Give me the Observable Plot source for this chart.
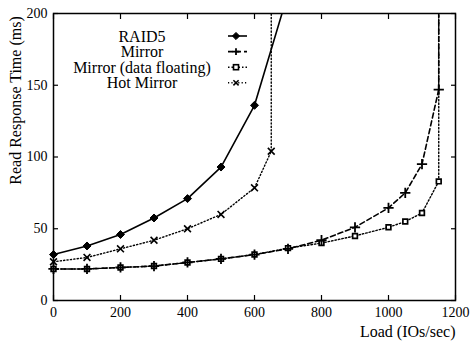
<!DOCTYPE html>
<html>
<head>
<meta charset="utf-8">
<script src="https://cdn.jsdelivr.net/npm/d3@7"></script>
<script src="https://cdn.jsdelivr.net/npm/@observablehq/plot@0.6"></script>
<style>
  html, body { margin: 0; padding: 0; background: #fff; }
  #wrap { position: relative; width: 475px; height: 346px; }
  #legend { position: absolute; left: 0; top: 0; }
</style>
</head>
<body>
<div id="wrap"></div>
<script>
// ---- data ----
const seriesNames = ["RAID5", "Mirror", "Mirror (data floating)", "Hot Mirror"];

const raidLoad = [0, 100, 200, 300, 400, 500, 600];
const raidTime = [32, 38, 46, 57.5, 71, 93, 136];
const raidTail = [[600, 136], [700, 214]];

const mirrorLoad = [0, 100, 200, 300, 400, 500, 600, 700, 800, 900, 1000, 1050, 1100, 1150];
const mirrorTime = [22, 22, 23, 24, 26.5, 29, 32, 36, 42, 51, 64.5, 75, 95, 147];
const mirrorTail = [[1150, 147], [1150, 210]];

const floatLoad = [0, 100, 200, 300, 400, 500, 600, 700, 800, 900, 1000, 1050, 1100, 1150];
const floatTime = [22, 22, 23, 24, 26.5, 29, 32, 36.5, 40, 45, 51, 55, 61, 83];
const floatTail = [[1150, 83], [1150, 210]];

const hotLoad = [0, 100, 200, 300, 400, 500, 600, 650];
const hotTime = [27, 30, 36, 42, 50, 60, 78.5, 104];
const hotTail = [[650, 104], [650, 210]];

const xTicks = [0, 200, 400, 600, 800, 1000, 1200];
const yTicks = [0, 50, 100, 150, 200];

const xLabel = "Load (IOs/sec)";
const yLabel = "Read Response Time (ms)";

// ---- build tables ----
const toRows = (xs, ys) => xs.map((x, i) => ({x, y: ys[i]}));
const raid = toRows(raidLoad, raidTime);
const mirror = toRows(mirrorLoad, mirrorTime);
const floating = toRows(floatLoad, floatTime);
const hot = toRows(hotLoad, hotTime);
const tail = t => t.map(([x, y]) => ({x, y}));

const styles = {
  raid: {stroke: "#000", strokeWidth: 1.6},
  mirror: {stroke: "#000", strokeWidth: 1.6, strokeDasharray: "5,3"},
  floating: {stroke: "#000", strokeWidth: 1.4, strokeDasharray: "1.5,2"},
  hot: {stroke: "#000", strokeWidth: 1.4, strokeDasharray: "1.2,2.2"}
};

const font = "'Liberation Serif', 'DejaVu Serif', serif";

const chart = Plot.plot({
  width: 475,
  height: 346,
  marginTop: 13,
  marginRight: 20,
  marginBottom: 46,
  marginLeft: 53,
  style: {fontFamily: font, fontSize: "14px", color: "#000", background: "#fff"},
  x: {domain: [0, 1200], axis: null},
  y: {domain: [0, 200], axis: null},
  marks: [
    // axes with inward ticks
    Plot.axisX({anchor: "bottom", label: null, ticks: xTicks, tickSize: 5, dy: -5, tickPadding: 7, fontSize: 14, tickFormat: d => String(d), strokeWidth: 1.2}),
    Plot.axisX({anchor: "top", label: null, ticks: xTicks, tickSize: 5, dy: 5, tickFormat: () => "", strokeWidth: 1.2}),
    Plot.axisY({anchor: "left", label: null, ticks: yTicks, tickSize: 5, dx: 5, tickPadding: 6, fontSize: 14, tickFormat: d => String(d), strokeWidth: 1.2}),
    Plot.axisY({anchor: "right", label: null, ticks: yTicks, tickSize: 5, dx: -5, tickFormat: () => "", strokeWidth: 1.2}),
    Plot.frame({stroke: "#000", strokeWidth: 1.5}),

    // lines
    Plot.line(raid, {x: "x", y: "y", ...styles.raid, clip: true}),
    Plot.line(tail(raidTail), {x: "x", y: "y", ...styles.raid, clip: true}),
    Plot.line(mirror, {x: "x", y: "y", ...styles.mirror, clip: true}),
    Plot.line(tail(mirrorTail), {x: "x", y: "y", ...styles.mirror, clip: true}),
    Plot.line(floating, {x: "x", y: "y", ...styles.floating, clip: true}),
    Plot.line(tail(floatTail), {x: "x", y: "y", ...styles.floating, clip: true}),
    Plot.line(hot, {x: "x", y: "y", ...styles.hot, clip: true}),
    Plot.line(tail(hotTail), {x: "x", y: "y", ...styles.hot, clip: true}),

    // markers
    Plot.dot(floating, {x: "x", y: "y", symbol: "square2", r: 3, stroke: "#000", strokeWidth: 1.7, fill: "#fff"}),
    Plot.dot(mirror, {x: "x", y: "y", symbol: "plus", r: 3.4, stroke: "#000", strokeWidth: 1.8}),
    Plot.dot(hot, {x: "x", y: "y", symbol: "times", r: 3.2, stroke: "#000", strokeWidth: 1.6}),
    Plot.dot(raid, {x: "x", y: "y", symbol: "diamond2", r: 3.6, fill: "#000", stroke: "#000", strokeWidth: 1}),

    // axis titles
    Plot.text([xLabel], {frameAnchor: "bottom-right", text: d => d, textAnchor: "end", lineAnchor: "middle", dy: 31, fontSize: 16}),
    Plot.text([yLabel], {frameAnchor: "top-left", text: d => d, textAnchor: "middle", lineAnchor: "middle", rotate: -90, dx: -38, dy: 87, fontSize: 16})
  ]
});

const wrap = document.getElementById("wrap");
wrap.appendChild(chart);

// ---- legend overlay ----
const legend = d3.select(wrap).append("svg")
  .attr("id", "legend")
  .attr("width", 475).attr("height", 346)
  .style("font-family", font);

const legendItems = [
  {name: seriesNames[0], style: styles.raid, kind: "diamond"},
  {name: seriesNames[1], style: styles.mirror, kind: "plus"},
  {name: seriesNames[2], style: styles.floating, kind: "square"},
  {name: seriesNames[3], style: styles.hot, kind: "times"}
];

const rowY = i => 36 + i * 15.6;
legendItems.forEach((it, i) => {
  const y = rowY(i);
  legend.append("text")
    .attr("x", 142).attr("y", y)
    .attr("text-anchor", "middle").attr("dominant-baseline", "central")
    .attr("font-size", 16).text(it.name);
  legend.append("line")
    .attr("x1", 228).attr("x2", 247).attr("y1", y).attr("y2", y)
    .attr("stroke", "#000")
    .attr("stroke-width", it.style.strokeWidth)
    .attr("stroke-dasharray", it.style.strokeDasharray || null);
  const g = legend.append("g").attr("transform", `translate(236,${y})`);
  if (it.kind === "plus") {
    g.append("path").attr("d", "M-3.4,0H3.4M0,-3.4V3.4").attr("stroke", "#000").attr("stroke-width", 1.8);
  } else if (it.kind === "times") {
    g.append("path").attr("d", "M-2.6,-2.6L2.6,2.6M-2.6,2.6L2.6,-2.6").attr("stroke", "#000").attr("stroke-width", 1.5);
  } else if (it.kind === "square") {
    g.append("rect").attr("x", -2.5).attr("y", -2.5).attr("width", 5).attr("height", 5)
      .attr("fill", "#fff").attr("stroke", "#000").attr("stroke-width", 1.6);
  } else {
    g.append("path").attr("d", "M0,-3.6L3.6,0L0,3.6L-3.6,0Z").attr("fill", "#000").attr("stroke", "#000");
  }
});
</script>
</body>
</html>
